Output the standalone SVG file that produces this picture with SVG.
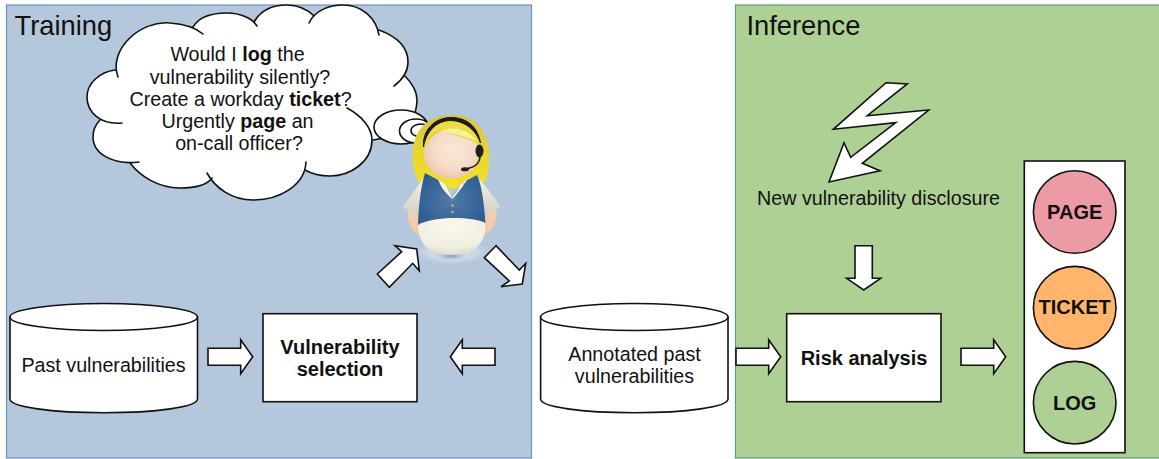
<svg xmlns="http://www.w3.org/2000/svg" width="1159" height="459" viewBox="0 0 1159 459">
<style>
text{font-family:"Liberation Sans",Arial,sans-serif;fill:#111;text-anchor:middle}
.t{font-size:19.700px}
.b{font-size:20px;font-weight:bold}
.title{font-size:27.300px;text-anchor:start}
.s{fill:#fff;stroke:#111;stroke-width:1.600}
.a{fill:#fff;stroke:#111;stroke-width:1.600;stroke-linejoin:miter}
.c{fill:none;stroke:#111;stroke-width:1.600;stroke-linecap:round}
</style>
<defs>
<path id="ra" d="M0,-8.500H32.700V-17L44.700,0L32.700,17V8.500H0Z"/>
<radialGradient id="shadow"><stop offset="0" stop-color="#d4deea"/><stop offset=".6" stop-color="#ccd8e7"/><stop offset="1" stop-color="#b4c7dc" stop-opacity="0"/></radialGradient>
<radialGradient id="shadow2"><stop offset="0" stop-color="#8793a8"/><stop offset="1" stop-color="#b4c7dc" stop-opacity="0"/></radialGradient>
<linearGradient id="hair" x1="0" y1="0" x2="0" y2="1"><stop offset="0" stop-color="#d8c440"/><stop offset=".5" stop-color="#e8d62c"/><stop offset="1" stop-color="#f0e02e"/></linearGradient>
<radialGradient id="skin" cx=".55" cy=".42" r=".62"><stop offset="0" stop-color="#f8e8d8"/><stop offset=".6" stop-color="#f6dcc8"/><stop offset="1" stop-color="#eec4a8"/></radialGradient>
<radialGradient id="vest" cx=".5" cy=".5" r=".6"><stop offset="0" stop-color="#4f7aa9"/><stop offset="1" stop-color="#2d5a90"/></radialGradient>
<radialGradient id="belly" cx=".5" cy=".2" r=".85"><stop offset="0" stop-color="#fbf8ea"/><stop offset=".7" stop-color="#f1efe2"/><stop offset="1" stop-color="#d8d6c8"/></radialGradient>
<linearGradient id="sleeve" x1="0" y1="0" x2="0" y2="1"><stop offset="0" stop-color="#f6f4e8"/><stop offset="1" stop-color="#cfcfc4"/></linearGradient>
<linearGradient id="arm" x1="0" y1="0" x2="0" y2="1"><stop offset="0" stop-color="#f0d2b6"/><stop offset="1" stop-color="#f6c8a4"/></linearGradient>
</defs>

<g id="training"><rect x="6.500" y="5" width="525" height="453" fill="#b4c7dc" stroke="#6f92c0" stroke-width="1.200"/><text class="title" x="14.500" y="34.500">Training</text></g>
<g id="inference"><rect x="735.500" y="5" width="430" height="453" fill="#afd095" stroke="#5a9e80" stroke-width="1.200"/><text class="title" x="746.500" y="34.500">Inference</text></g>

<g id="thought-cloud">
<path fill="#fff" d="M118,77C108,50 140,20 170,23C185,24 196,28 203,34L193,27C200,15 215,13 227,13C240,13 252,18 257,26L254,22C262,8 275,5 287,5C298,5 308,10 314,16L309,23C315,10 330,5 343,5C362,5 376,18 379,35L379,30C398,37 408,48 408,62C408,72 402,80 394,86L404,75C413,84 417,92 417,100C417,105 416,109 415,113L384,138L372,140C372,162 350,176 330,176C320,176 312,174 305,170L306,162C305,185 280,200 253,200C232,200 215,188 207,173L212,178C207,185 195,188 180,188C158,188 140,176 130,163L139,162C115,165 93,155 93,137C93,130 96,124 100,120L122,123C100,125 87,112 87,97C87,83 100,72 115,70Z"/>
<path class="c" d="M118,77C108,50 140,20 170,23C185,24 196,28 203,34M193,27C200,15 215,13 227,13C240,13 252,18 257,26M254,22C262,8 275,5 287,5C298,5 308,10 314,16M309,23C315,10 330,5 343,5C362,5 376,18 379,35M379,30C398,37 408,48 408,62C408,72 402,80 394,86M404,75C413,84 417,92 417,100C417,105 416,109 415,113M373,140L384,138M347,108C362,116 372,128 372,140C372,162 350,176 330,176C320,176 312,174 305,170M306,162C305,185 280,200 253,200C232,200 215,188 207,173M212,178C207,185 195,188 180,188C158,188 140,176 130,163M139,162C115,165 93,155 93,137C93,130 96,124 100,120M122,123C100,125 87,112 87,97C87,83 100,72 115,70"/>
<ellipse class="s" cx="401" cy="127" rx="27" ry="17"/>
<ellipse class="s" cx="416" cy="131" rx="16.500" ry="12"/>
<ellipse class="s" cx="421" cy="130.500" rx="10" ry="6.500"/>
<text class="t" x="237.500" y="61">Would I <tspan font-weight="bold">log</tspan> the</text>
<text class="t" x="240" y="83.500">vulnerability silently?</text>
<text class="t" x="240.500" y="106">Create a workday <tspan font-weight="bold">ticket</tspan>?</text>
<text class="t" x="237.500" y="128">Urgently <tspan font-weight="bold">page</tspan> an</text>
<text class="t" x="239" y="150">on-call officer?</text>
</g>

<g id="officer">
<ellipse cx="452" cy="252" rx="42" ry="14" fill="url(#shadow)"/>
<ellipse cx="451" cy="256" rx="17" ry="4.500" fill="url(#shadow2)"/>
<path d="M412.700,160C411,130 428,115 452,115C476,115 490,132 489,160C489,168 488,174 486,180C478,190 430,192 420,183C415,177 413,170 412.700,160Z" fill="url(#hair)"/>
<path d="M408,209C407,222 411,231 419,235L426,225L420,206ZM496.500,209C497,222 493,231 484,235L478,225L486,206Z" fill="url(#arm)"/>
<path d="M425,176C418,186 410,197 403,207C406,208 407,210 408.500,210.500C412,212 415,213 418,216L428,200ZM477,177C486,186 494,197 500.500,207C498,208 497,209 495,209.500C492,211 489,213 485,216L474,200Z" fill="url(#sleeve)"/>
<path d="M425,173L440,181L452,197L462,183L477,175C481,183 484,200 485.500,224L452,228L418,226C418.500,205 421,186 425,173Z" fill="url(#vest)"/>
<path d="M438,179.500L445,184C447,189 450,193 452,197.500C456,192 459,188 461,184L466,180.500C468,181 464,183 463,186C460,190 456,195 453,198.500L451.500,198.500C447,194 443,190 441,186Z" fill="#f8f6ea"/>
<circle cx="452.500" cy="205.500" r="1.300" fill="#e0b24a"/><circle cx="452.500" cy="212" r="1.300" fill="#e0b24a"/>
<path d="M418,225C418,238 424,255 451,255C478,255 486,240 485.500,223C472,216 432,216 418,225Z" fill="url(#belly)"/>
<ellipse cx="451.500" cy="154" rx="27.500" ry="24.500" fill="url(#skin)"/>
<path d="M424,148C424,132 436,120 452,119C468,119 478,128 480,146C470,138 453,135 443,131C434,131 427,138 424,148Z" fill="#ecdc42"/>
<path d="M442,131C452,133 466,136 477,141C470,130 452,125 442,131Z" fill="#f6f0a4"/>
<path d="M423.500,147C422,130 435,117.500 451,117.500C467,117.500 478,127 480.500,143C476,130 465,121 451,120.500C436,120.500 426,132 423.500,147Z" fill="#1b1b1b" stroke="#1b1b1b" stroke-width="1"/>
<ellipse cx="479.500" cy="151" rx="4" ry="6.500" fill="#1f1f1f"/>
<path d="M480,156C480,164 473,168 465,169" fill="none" stroke="#1f1f1f" stroke-width="1.600"/>
<ellipse cx="465" cy="169.200" rx="4" ry="2" fill="#1f1f1f"/>
</g>

<g id="past-vulnerabilities">
<path class="s" d="M10,317V399C10,407 52,412.700 104,412.700S197.500,407 197.500,399V317Z"/>
<ellipse class="s" cx="103.700" cy="317" rx="93.700" ry="13.500"/>
<text class="t" x="103.500" y="372">Past vulnerabilities</text>
</g>
<g id="vulnerability-selection">
<rect class="s" x="263" y="313.700" width="154" height="88"/>
<text class="b" x="340" y="354">Vulnerability</text>
<text class="b" x="340" y="376">selection</text>
</g>
<g id="annotated-past-vulnerabilities">
<path class="s" d="M540.600,317V399C540.600,407 582,412.700 634.300,412.700S728,407 728,399V317Z"/>
<ellipse class="s" cx="634.300" cy="317" rx="93.700" ry="13.500"/>
<text class="t" x="634.500" y="361">Annotated past</text>
<text class="t" x="634.500" y="383">vulnerabilities</text>
</g>
<g id="risk-analysis">
<rect class="s" x="786.700" y="313.700" width="154.300" height="88"/>
<text class="b" x="864" y="365">Risk analysis</text>
</g>
<g id="disclosure">
<polygon class="a" points="886,82.700 907.300,84 867.300,115.700 928.700,110 862.300,163.300 880,170.700 829,182 844,142.700 850.700,157.300 895.700,122.700 833.300,129.300"/>
<text class="t" x="878.500" y="205">New vulnerability disclosure</text>
</g>
<g id="traffic-light">
<rect class="s" x="1024.300" y="161" width="100.700" height="291.700"/>
<circle cx="1074.700" cy="212" r="41.300" fill="#ec9ba4" stroke="#111" stroke-width="1.600"/>
<circle cx="1074.700" cy="307.700" r="41.300" fill="#ffb66c" stroke="#111" stroke-width="1.600"/>
<circle cx="1074.700" cy="402.700" r="41.300" fill="#afd095" stroke="#111" stroke-width="1.600"/>
<text class="b" x="1074.700" y="219">PAGE</text>
<text class="b" x="1074.700" y="314">TICKET</text>
<text class="b" x="1074.700" y="410">LOG</text>
</g>

<g id="connectors">
<use href="#ra" class="a" transform="translate(208,356.700)"/>
<use href="#ra" class="a" transform="translate(495,356.700) scale(-1,1)"/>
<use href="#ra" class="a" transform="translate(736,356.700)"/>
<use href="#ra" class="a" transform="translate(961,356.700)"/>
<polygon class="a" points="855,245.700 872.300,245.700 872.300,278.300 880.700,278.300 863.700,290 846.700,278.300 855,278.300"/>
<polygon class="a" points="377.300,274 389.300,287.300 412.700,263.300 419.300,270.700 416.700,249 395,245.700 401.700,251.700"/>
<polygon class="a" points="496,245.700 484.300,257.700 509.300,281 501,286.700 522.300,284 525.700,263.300 519.300,270"/>
</g>
</svg>
